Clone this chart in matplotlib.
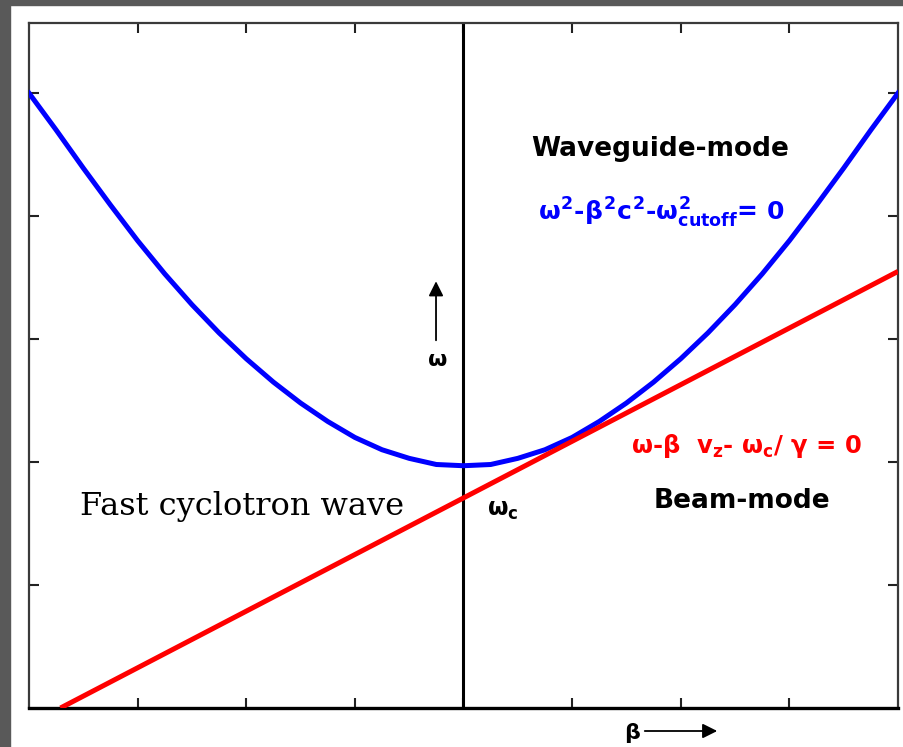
import matplotlib
matplotlib.use("Agg")
import matplotlib.pyplot as plt
from matplotlib.patches import Rectangle, FancyArrowPatch

# mathtext in bold sans, like the plain labels
plt.rcParams['mathtext.fontset'] = 'custom'
plt.rcParams['mathtext.rm'] = 'DejaVu Sans:bold'
plt.rcParams['mathtext.it'] = 'DejaVu Sans:bold'
plt.rcParams['mathtext.bf'] = 'DejaVu Sans:bold'

# waveguide mode (blue curve)
wg_beta = [-4.0, -3.75, -3.5, -3.25, -3.0, -2.75, -2.5, -2.25, -2.0, -1.75,
           -1.5, -1.25, -1.0, -0.75, -0.5, -0.25, 0.0,
           0.25, 0.5, 0.75, 1.0, 1.25, 1.5, 1.75, 2.0,
           2.25, 2.5, 2.75, 3.0, 3.25, 3.5, 3.75, 4.0]
wg_omega = [5.00, 4.70, 4.39, 4.09, 3.80, 3.53, 3.28, 3.05, 2.84, 2.65,
            2.48, 2.33, 2.20, 2.10, 2.03, 1.98, 1.97,
            1.98, 2.03, 2.10, 2.20, 2.33, 2.48, 2.65, 2.84,
            3.05, 3.28, 3.53, 3.80, 4.09, 4.39, 4.70, 5.00]

# beam mode (red line)
beam_beta = [-3.71, 4.0]
beam_omega = [0.0, 3.55]

x_ticks = [-3, -2, -1, 0, 1, 2, 3]
y_ticks = [1, 2, 3, 4, 5]

fig = plt.figure(figsize=(9.04, 7.47), dpi=100)

# grey frame of the screenshot
fig.patches.append(Rectangle((0, 1 - 5/747), 1, 5/747, transform=fig.transFigure,
                             color='#595959', zorder=0))
fig.patches.append(Rectangle((0, 0), 10/904, 1, transform=fig.transFigure,
                             color='#595959', zorder=0))

ax = fig.add_axes([29/904, 1 - 708/747, (898 - 29)/904, (708 - 23)/747])
ax.set_xlim(-4, 4)
ax.set_ylim(0, 5.57)

ax.plot(wg_beta, wg_omega, color='#0000ff', lw=3.6, solid_joinstyle='round', zorder=3)
ax.plot(beam_beta, beam_omega, color='#ff0000', lw=3.6, solid_capstyle='butt', zorder=4)
ax.axvline(0, color='black', lw=2.2, zorder=2)

ax.set_xticks(x_ticks)
ax.set_yticks(y_ticks)
ax.set_xticklabels([])
ax.set_yticklabels([])
ax.tick_params(direction='in', top=True, right=True, length=7, width=1.5, color='#222222')
for s in ['top', 'left', 'right']:
    ax.spines[s].set_color('#3a3a3a')
    ax.spines[s].set_linewidth(1.6)
ax.spines['bottom'].set_color('black')
ax.spines['bottom'].set_linewidth(2.4)

# labels
ax.text(1.81, 4.49, 'Waveguide-mode', fontsize=19, fontweight='bold',
        ha='center', va='baseline')
ax.text(1.82, 3.96, r'$\omega^2$-$\beta^2$$c^2$-$\omega^2_{cutoff}$= 0', fontsize=18,
        fontweight='bold', color='#0000ff', ha='center', va='baseline')
ax.text(2.60, 2.07, r'$\omega$-$\beta$  $v_z$- $\omega_c$/ $\gamma$ = 0', fontsize=17.5,
        fontweight='bold', color='#ff0000', ha='center', va='baseline')
ax.text(2.56, 1.63, 'Beam-mode', fontsize=19, fontweight='bold',
        ha='center', va='baseline')
ax.text(-2.04, 1.57, 'Fast cyclotron wave', fontsize=23, family='DejaVu Serif',
        ha='center', va='baseline')
ax.text(0.22, 1.56, r'$\omega_c$', fontsize=17, ha='left', va='baseline')

# omega arrow
ax.text(-0.244, 2.83, r'$\omega$', fontsize=16, ha='center', va='center')
ax.annotate('', xy=(-0.253, 3.47), xytext=(-0.253, 2.99),
            arrowprops=dict(arrowstyle='-|>', color='black', lw=1.3,
                            mutation_scale=22, shrinkA=0, shrinkB=0))

# beta arrow below the axis
fig.text(632/904, 1 - 733/747, r'$\beta$', fontsize=16, ha='center', va='center')
fig.patches.append(FancyArrowPatch(
    (642/904, 1 - 731/747), (720/904, 1 - 731/747), transform=fig.transFigure,
    arrowstyle='-|>', color='black', lw=1.3, mutation_scale=22))

fig.savefig('out.png', dpi=100)
